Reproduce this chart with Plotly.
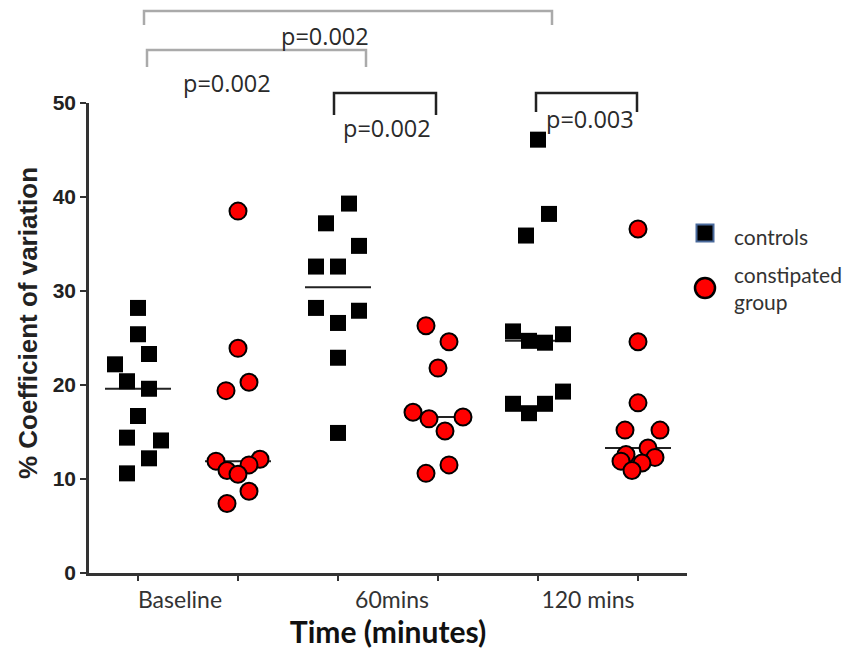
import numpy as np
import plotly.graph_objects as go

# ---------------- data ----------------
time_points = ["Baseline", "60mins", "120 mins"]
group_names = ["controls", "constipated<br>group"]

controls_baseline = [28.2, 25.4, 23.3, 22.2, 20.4, 19.6, 16.7, 14.4, 14.1, 12.2, 10.6]
controls_60 = [39.3, 37.2, 34.8, 32.6, 32.6, 28.2, 27.9, 26.6, 22.9, 14.9]
controls_120 = [46.1, 38.2, 35.9, 25.7, 25.4, 24.7, 24.5, 19.3, 18.0, 18.0, 17.0]

constipated_baseline = [38.5, 23.9, 20.3, 19.4, 12.1, 11.9, 11.5, 10.9, 10.5, 8.7, 7.4]
constipated_60 = [26.3, 24.6, 21.8, 17.1, 16.6, 16.4, 15.1, 11.5, 10.6]
constipated_120 = [36.6, 24.6, 18.1, 15.2, 15.2, 13.3, 12.6, 12.3, 11.9, 11.7, 10.9]

p_values = ["p=0.002", "p=0.002", "p=0.002", "p=0.003"]

# horizontal spread of the dot-plot columns (layout only)
spread_controls_baseline = [0, 0, .11, -.23, -.11, .11, 0, -.11, .23, .11, -.11]
spread_controls_60 = [.11, -.12, .21, -.22, 0, -.22, .21, 0, 0, 0]
spread_controls_120 = [0, .11, -.12, -.25, .25, -.09, .07, .25, -.25, .07, -.09]
spread_constipated_baseline = [0, 0, .11, -.12, .22, -.22, .11, -.11, 0, .11, -.11]
spread_constipated_60 = [-.12, .11, 0, -.25, .25, -.09, .07, .11, -.12]
spread_constipated_120 = [0, 0, 0, -.13, .22, .10, -.12, .17, -.17, .04, -.06]

columns = [
    (1, controls_baseline, spread_controls_baseline, "controls"),
    (2, constipated_baseline, spread_constipated_baseline, "constipated"),
    (3, controls_60, spread_controls_60, "controls"),
    (4, constipated_60, spread_constipated_60, "constipated"),
    (5, controls_120, spread_controls_120, "controls"),
    (6, constipated_120, spread_constipated_120, "constipated"),
]

square_style = dict(symbol="square", size=16, color="black", line=dict(width=0))
circle_style = dict(symbol="circle", size=17, color="#ff0000", line=dict(width=2, color="black"))

fig = go.Figure()

for pos, vals, spread, grp in columns:
    med = float(np.median(vals))
    fig.add_trace(go.Scatter(
        x=[pos - 0.33, pos + 0.33], y=[med, med], mode="lines",
        line=dict(color="#222222", width=2), showlegend=False, hoverinfo="skip"))

for pos, vals, spread, grp in columns:
    xs = [pos + s for s in spread]
    fig.add_trace(go.Scatter(
        x=xs, y=vals, mode="markers",
        marker=square_style if grp == "controls" else circle_style,
        showlegend=False))

# page-pixel -> paper helpers (plot area: x 89..687, y 103..573 in the page)
def py(px):
    return (573 - px) / 470.0

def pxp(px):
    return (px - 89) / 598.0

# significance brackets
brackets = [
    (1.06, 5.14, 11, 25, "#aaaaaa"),
    (1.09, 3.28, 50, 67, "#aaaaaa"),
    (2.96, 3.98, 93, 115, "#222222"),
    (4.98, 5.99, 93, 112, "#222222"),
]
for x0, x1, ytop, yleg, col in brackets:
    fig.add_shape(type="path", xref="x", yref="paper",
                  path=f"M {x0},{py(yleg)} L {x0},{py(ytop)} L {x1},{py(ytop)} L {x1},{py(yleg)}",
                  line=dict(color=col, width=2.5))

p_pos = [(2.87, 36), (1.89, 83), (3.49, 128), (5.52, 119)]
for (xp, ypx), txt in zip(p_pos, p_values):
    fig.add_annotation(x=xp, y=py(ypx), xref="x", yref="paper", text=txt,
                       xanchor="center", yanchor="middle", showarrow=False,
                       font=dict(family="Open Sans", size=23.5, color="#2a2a2a"))

# y-axis title
fig.add_annotation(x=pxp(28), y=py(323), xref="paper", yref="paper",
                   text="<b>% Coefficient of variation</b>", textangle=-90, showarrow=False,
                   xanchor="center", yanchor="middle",
                   font=dict(family="Liberation Sans", size=26, color="#222222"))

# legend (custom)
fig.add_shape(type="rect", xref="paper", yref="paper", xsizemode="pixel", ysizemode="pixel",
              xanchor=pxp(705), yanchor=py(233), x0=-8.5, x1=8.5, y0=-8.5, y1=8.5,
              fillcolor="black", line=dict(color="#4a6a9c", width=2))
fig.add_shape(type="circle", xref="paper", yref="paper", xsizemode="pixel", ysizemode="pixel",
              xanchor=pxp(705), yanchor=py(288), x0=-10, x1=10, y0=-10, y1=10,
              fillcolor="#ff0000", line=dict(color="black", width=2.5))
for txt, ypx in zip(group_names, [237, 288]):
    fig.add_annotation(x=pxp(732), y=py(ypx), xref="paper", yref="paper", text=txt,
                       xanchor="left", yanchor="middle", align="left", showarrow=False,
                       font=dict(family="Lato", size=21, color="#333333"))

# the page has an 8px body margin: shrink the figure so the plot lands where intended
fig.update_layout(
    width=846, height=642,
    margin=dict(l=81, r=167, t=95, b=77),
    paper_bgcolor="white", plot_bgcolor="white",
    showlegend=False,
    xaxis=dict(range=[0.51, 6.49], showgrid=False, zeroline=False, automargin=False,
               showline=True, linecolor="#333333", linewidth=2.5,
               tickmode="array", tickvals=[1.42, 3.54, 5.50], ticktext=time_points,
               ticks="", ticklabelstandoff=5,
               tickfont=dict(family="Lato", size=23, color="#333333"),
               minor=dict(tickmode="array", tickvals=[1, 2, 3, 4, 5, 6], ticks="outside",
                          ticklen=5, tickwidth=2, tickcolor="#333333", showgrid=False),
               title=dict(text="<b>Time (minutes)</b>", standoff=7,
                          font=dict(family="Lato", size=30, color="#111111"))),
    yaxis=dict(range=[0, 50], showgrid=False, zeroline=False, automargin=False,
               showline=True, linecolor="#333333", linewidth=2.5,
               tickvals=[0, 10, 20, 30, 40, 50], ticks="outside", ticklen=6, tickwidth=2,
               tickcolor="#333333",
               tickfont=dict(family="Liberation Sans", size=21, color="#222222", weight="bold")),
)

fig.write_html("out.html")
